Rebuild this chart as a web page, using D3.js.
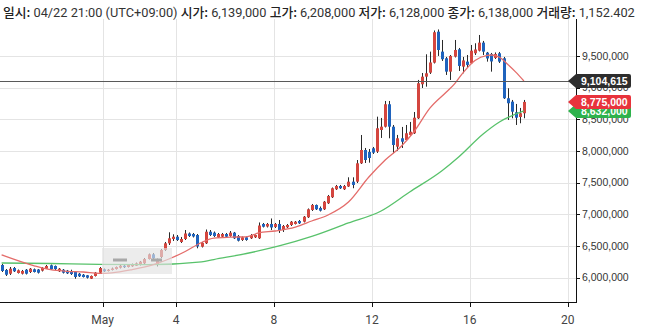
<!DOCTYPE html>
<html>
<head>
<meta charset="utf-8">
<script src="https://cdn.jsdelivr.net/npm/d3@7"></script>
<style>
  html, body { margin: 0; padding: 0; background: #fff; }
  svg { display: block; }
</style>
</head>
<body>
<svg id="chart" width="646" height="332"></svg>
<script>
// ---- data: 4-hour bars, prices in thousands of KRW ----
const firstBar = new Date(2019, 3, 26, 21); // 04/26 21:00 KST
const barHours = 4;

const openK = [
  6201, 6122, 6063, 6153, 6074, 6063, 6126, 6090, 6133, 6129,
  6111, 6142, 6196, 6185, 6101, 6126, 6111, 6106, 6090, 6063,
  6047, 6038, 5984, 6027, 6079, 6133, 6106, 6122, 6137, 6158,
  6189, 6169, 6180, 6189, 6201, 6227, 6295, 6369, 6216, 6327,
  6437, 6543, 6611, 6647, 6564, 6611, 6698, 6690, 6674, 6489,
  6543, 6726, 6711, 6638, 6647, 6690, 6658, 6711, 6658, 6595,
  6638, 6622, 6638, 6622, 6848, 6808, 6848, 6801, 6848, 6753,
  6796, 6832, 6848, 6895, 6884, 6954, 7069, 7148, 7101, 7080,
  7175, 7270, 7396, 7448, 7396, 7440, 7516, 7516, 7806, 8016,
  7985, 8043, 7990, 8332, 8384, 8738, 8384, 8068, 8201, 8174,
  8253, 8280, 8517, 9054, 9174, 9237, 9395, 9884, 9569, 9464,
  9253, 9490, 9606, 9332, 9411, 9385, 9543, 9584, 9711, 9553,
  9532, 9469, 9543, 9464, 8833, 8779, 8612, 8537, 8596
];
const highK = [
  6216, 6137, 6169, 6169, 6129, 6122, 6137, 6153, 6145, 6137,
  6169, 6201, 6208, 6193, 6153, 6137, 6122, 6126, 6098, 6074,
  6058, 6043, 6035, 6090, 6169, 6145, 6137, 6161, 6177, 6201,
  6201, 6208, 6224, 6240, 6264, 6311, 6382, 6390, 6303, 6453,
  6564, 6717, 6685, 6674, 6643, 6753, 6714, 6706, 6690, 6564,
  6761, 6753, 6729, 6706, 6706, 6706, 6737, 6722, 6674, 6651,
  6651, 6690, 6682, 6872, 6864, 6864, 6935, 6864, 6911, 6832,
  6848, 6895, 6895, 6911, 6974, 7093, 7164, 7156, 7124, 7211,
  7306, 7424, 7464, 7464, 7464, 7585, 7585, 7858, 8253, 8048,
  8032, 8064, 8542, 8522, 8790, 8790, 8411, 8254, 8380, 8411,
  8459, 8616, 9122, 9232, 9527, 9569, 9903, 9919, 9753, 9485,
  9516, 9753, 9627, 9485, 9516, 9674, 9701, 9832, 9738, 9564,
  9548, 9556, 9564, 9485, 8991, 8806, 8743, 8680, 8806
];
const lowK = [
  6090, 6027, 6043, 6090, 6066, 6051, 6051, 6074, 6082, 6066,
  6098, 6137, 6122, 6122, 6090, 6066, 6058, 6043, 5984, 6011,
  6003, 5987, 5979, 6019, 6074, 6090, 6098, 6114, 6129, 6145,
  6153, 6161, 6172, 6185, 6193, 6216, 6287, 6279, 6177, 6311,
  6422, 6516, 6580, 6580, 6548, 6595, 6643, 6635, 6464, 6477,
  6532, 6658, 6643, 6627, 6635, 6635, 6646, 6611, 6572, 6580,
  6583, 6611, 6627, 6611, 6793, 6793, 6753, 6785, 6706, 6722,
  6785, 6816, 6840, 6848, 6872, 6943, 7053, 7069, 7045, 7069,
  7164, 7258, 7385, 7401, 7385, 7432, 7412, 7495, 7795, 7811,
  7816, 7953, 7969, 8206, 8372, 8201, 7964, 8001, 8048, 8159,
  8237, 8269, 8506, 8995, 9016, 9216, 9382, 9501, 9422, 9201,
  9122, 9477, 9264, 9227, 9311, 9374, 9516, 9572, 9516, 9411,
  9253, 9453, 9390, 8822, 8490, 8517, 8411, 8438, 8517
];
const closeK = [
  6106, 6047, 6142, 6101, 6117, 6106, 6063, 6142, 6090, 6079,
  6153, 6185, 6133, 6137, 6142, 6079, 6069, 6058, 6011, 6022,
  6011, 6000, 6027, 6079, 6153, 6101, 6126, 6145, 6169, 6189,
  6166, 6201, 6212, 6227, 6253, 6295, 6369, 6306, 6272, 6437,
  6543, 6622, 6647, 6595, 6611, 6698, 6658, 6651, 6493, 6548,
  6726, 6674, 6658, 6690, 6690, 6647, 6711, 6622, 6584, 6638,
  6595, 6674, 6674, 6824, 6805, 6848, 6793, 6848, 6753, 6816,
  6832, 6884, 6884, 6859, 6963, 7080, 7148, 7080, 7058, 7200,
  7290, 7412, 7448, 7412, 7448, 7516, 7464, 7806, 8016, 7858,
  7890, 7974, 8359, 8384, 8738, 8384, 8095, 8201, 8147, 8280,
  8305, 8526, 9070, 9174, 9227, 9398, 9875, 9595, 9449, 9253,
  9501, 9595, 9343, 9430, 9359, 9584, 9603, 9711, 9569, 9461,
  9414, 9532, 9411, 8833, 8754, 8621, 8526, 8596, 8775
];

// moving averages, sampled at bar numbers
const shortMaAt = [0, 8, 12, 16, 20, 24, 27, 32, 37, 41, 45, 49, 52, 56, 60, 63, 67, 72,
                   76, 80, 85, 90, 94, 98, 101, 105, 109, 111, 113, 116, 119, 120, 122, 124, 126, 128];
const shortMaK = [6360, 6188, 6126, 6101, 6090, 6068, 6077, 6129, 6201, 6295, 6414, 6556, 6625,
                  6640, 6646, 6706, 6737, 6800, 6895, 6990, 7195, 7590, 7859, 8080, 8300, 8680,
                  8932, 9060, 9230, 9430, 9510, 9516, 9480, 9370, 9245, 9104.615];
const longMaAt = [0, 12, 24, 36, 49, 52, 60, 68, 76, 85, 93, 100, 108, 112, 118, 122, 128];
const longMaK = [6232, 6224, 6210, 6205, 6250, 6287, 6382, 6501, 6651, 6864, 7053, 7353,
                 7693, 7906, 8269, 8459, 8632];

const yTickValues = [6000000, 6500000, 7000000, 7500000, 8000000, 8500000, 9000000, 9500000];
const xTickDates = [new Date(2019, 4, 1), new Date(2019, 4, 4), new Date(2019, 4, 8),
                    new Date(2019, 4, 12), new Date(2019, 4, 16), new Date(2019, 4, 20)];
const xTickLabels = ["May", "4", "8", "12", "16", "20"];

const headerParts = [
  ["일시:", " 04/22 21:00 (UTC+09:00) "],
  ["시가:", " 6,139,000 "],
  ["고가:", " 6,208,000 "],
  ["저가:", " 6,128,000 "],
  ["종가:", " 6,138,000 "],
  ["거래량:", " 1,152.402"]
];

// ---- layout ----
const plot = { left: 0, right: 576, top: 19, bottom: 302 };
const UP = "#d4463f", DOWN = "#1f63bd";

const svg = d3.select("#chart");

const x = d3.scaleTime()
  .domain([new Date(2019, 4, 1), new Date(2019, 4, 20)])
  .range([102.6, 567.8]);
const y = d3.scaleLinear()
  .domain([6000000, 9500000])
  .range([277.7, 56]);

const bars = openK.map((o, i) => ({
  t: d3.timeHour.offset(firstBar, barHours * i),
  o: o * 1000, h: highK[i] * 1000, l: lowK[i] * 1000, c: closeK[i] * 1000
}));
const barTime = i => d3.timeHour.offset(firstBar, barHours * i);

svg.append("defs").append("clipPath").attr("id", "plotClip")
  .append("rect")
  .attr("x", plot.left).attr("y", plot.top)
  .attr("width", plot.right - plot.left).attr("height", plot.bottom - plot.top);

// grid
const grid = svg.append("g").attr("stroke", "#e4e4e4").attr("stroke-width", 1);
grid.selectAll("line.h").data(yTickValues).join("line")
  .attr("x1", plot.left).attr("x2", plot.right)
  .attr("y1", d => Math.round(y(d)) + 0.5).attr("y2", d => Math.round(y(d)) + 0.5);
grid.selectAll("line.v").data(xTickDates).join("line")
  .attr("y1", plot.top).attr("y2", plot.bottom)
  .attr("x1", d => Math.round(x(d)) + 0.5).attr("x2", d => Math.round(x(d)) + 0.5);

const body = svg.append("g").attr("clip-path", "url(#plotClip)");

// candles
const candle = body.append("g").selectAll("g").data(bars).join("g");
candle.append("line")
  .attr("x1", d => Math.round(x(d.t)) + 0.5).attr("x2", d => Math.round(x(d.t)) + 0.5)
  .attr("y1", d => y(d.h)).attr("y2", d => y(d.l))
  .attr("stroke", "#2a2a2a").attr("stroke-width", 1);
candle.append("rect")
  .attr("x", d => Math.round(x(d.t)) - 1)
  .attr("width", 3)
  .attr("y", d => y(Math.max(d.o, d.c)))
  .attr("height", d => Math.max(1, Math.abs(y(d.o) - y(d.c))))
  .attr("fill", d => d.c >= d.o ? UP : DOWN);

// moving averages
const maLine = d3.line().x(d => x(d.t)).y(d => y(d.v)).curve(d3.curveMonotoneX);
const longMa = longMaAt.map((n, k) => ({ t: barTime(n), v: longMaK[k] * 1000 }));
const shortMa = shortMaAt.map((n, k) => ({ t: barTime(n), v: shortMaK[k] * 1000 }));
body.append("path").datum(longMa).attr("d", maLine)
  .attr("fill", "none").attr("stroke", "#58c26b").attr("stroke-width", 1.3);
body.append("path").datum(shortMa).attr("d", maLine)
  .attr("fill", "none").attr("stroke", "#e46c6a").attr("stroke-width", 1.3);

// faded info box
body.append("rect").attr("x", 102).attr("y", 248).attr("width", 70).attr("height", 26)
  .attr("fill", "#e2e2e2").attr("opacity", 0.65);
body.append("rect").attr("x", 113).attr("y", 258.5).attr("width", 14).attr("height", 3).attr("fill", "#a8a8a8");
body.append("rect").attr("x", 151).attr("y", 258.5).attr("width", 11).attr("height", 3).attr("fill", "#a8a8a8");

// last-value line of the short average
const shortLast = shortMa[shortMa.length - 1].v;
const longLast = longMa[longMa.length - 1].v;
const lastClose = bars[bars.length - 1].c;
svg.append("line")
  .attr("x1", plot.left).attr("x2", plot.right)
  .attr("y1", Math.round(y(shortLast)) + 0.5).attr("y2", Math.round(y(shortLast)) + 0.5)
  .attr("stroke", "#5a5a5a").attr("stroke-width", 1);

// axes lines
svg.append("line").attr("x1", plot.left).attr("x2", plot.right + 0.5)
  .attr("y1", plot.bottom + 0.5).attr("y2", plot.bottom + 0.5)
  .attr("stroke", "#111");
svg.append("line").attr("x1", plot.right + 0.5).attr("x2", plot.right + 0.5)
  .attr("y1", plot.top).attr("y2", plot.bottom + 1)
  .attr("stroke", "#111");

// y axis ticks and labels
const fmt = d3.format(",");
const yAx = svg.append("g");
yAx.selectAll("line").data(yTickValues).join("line")
  .attr("x1", plot.right).attr("x2", plot.right + 4)
  .attr("y1", d => Math.round(y(d)) + 0.5).attr("y2", d => Math.round(y(d)) + 0.5)
  .attr("stroke", "#111");
yAx.selectAll("text").data(yTickValues).join("text")
  .attr("x", plot.right + 6).attr("y", d => y(d)).attr("dy", "0.35em")
  .attr("font-family", "'Liberation Sans', Arial, sans-serif").attr("font-size", 10.5)
  .attr("fill", "#333").text(d => fmt(d));

// x axis ticks and labels
const xAx = svg.append("g");
xAx.selectAll("line").data(xTickDates).join("line")
  .attr("x1", d => Math.round(x(d)) + 0.5).attr("x2", d => Math.round(x(d)) + 0.5)
  .attr("y1", plot.bottom).attr("y2", plot.bottom + 5)
  .attr("stroke", "#111");
xAx.selectAll("text").data(xTickDates).join("text")
  .attr("x", d => x(d)).attr("y", 324)
  .attr("text-anchor", "middle")
  .attr("font-family", "Roboto, sans-serif").attr("font-size", 12)
  .attr("fill", "#444").text((d, i) => xTickLabels[i]);

// value tags on the right axis
function tag(value, fill, text) {
  const cy = y(value);
  const g = svg.append("g");
  g.append("path")
    .attr("d", `M${plot.right - 8},${cy} L${plot.right},${cy - 7} L${plot.right + 53},${cy - 7}
                Q${plot.right + 55},${cy - 7} ${plot.right + 55},${cy - 5} L${plot.right + 55},${cy + 5}
                Q${plot.right + 55},${cy + 7} ${plot.right + 53},${cy + 7} L${plot.right},${cy + 7} Z`)
    .attr("fill", fill);
  g.append("text").attr("x", plot.right + 5).attr("y", cy).attr("dy", "0.36em")
    .attr("font-family", "'Liberation Sans', Arial, sans-serif").attr("font-size", 10.5)
    .attr("font-weight", "bold").attr("fill", "#fff").text(text);
}
tag(longLast, "#2eb24c", fmt(Math.round(longLast)));
tag(lastClose, "#e8333c", fmt(Math.round(lastClose)));
tag(shortLast, "#2d2d2d", fmt(Math.round(shortLast)));

// header line
const header = svg.append("text").attr("x", 3).attr("y", 17)
  .attr("font-size", 13).attr("fill", "#333");
headerParts.forEach(([label, value]) => {
  header.append("tspan").attr("font-family", "'Noto Sans CJK KR', sans-serif")
    .attr("font-weight", 500).attr("fill", "#222").text(label);
  header.append("tspan").attr("font-family", "Roboto, sans-serif")
    .attr("xml:space", "preserve").style("white-space", "pre").text(value);
});
const natural = header.node().getComputedTextLength();
const target = 633;
header.attr("transform", `translate(3,0) scale(${target / natural},1) translate(-3,0)`);
</script>
</body>
</html>
